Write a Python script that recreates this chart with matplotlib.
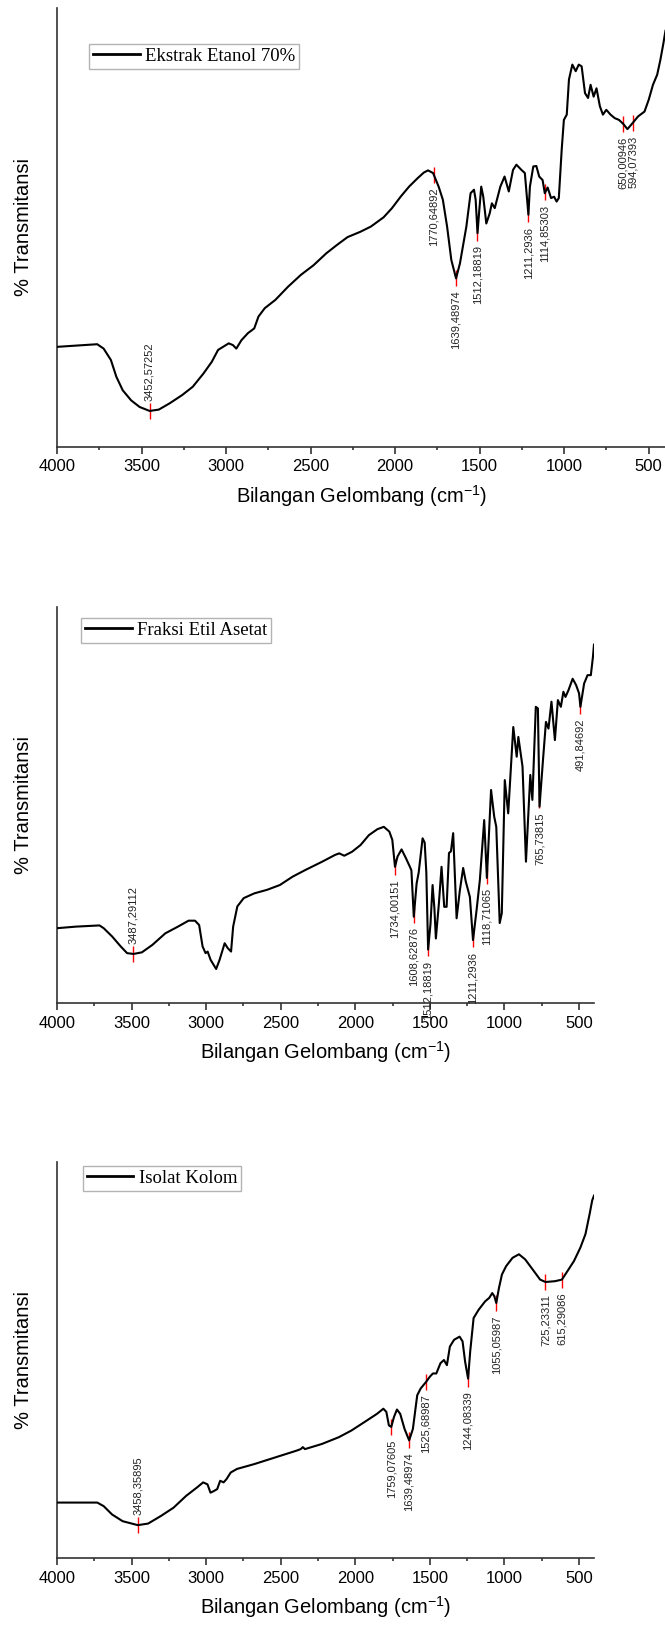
import numpy as np
import matplotlib.pyplot as plt
from matplotlib.ticker import MultipleLocator

plt.rcParams['font.family'] = ['Liberation Sans', 'DejaVu Sans']
plt.rcParams['mathtext.default'] = 'regular'

# ==========================================
# FTIR spectra (wavenumber cm-1, relative %T)
# ==========================================
# Ekstrak Etanol 70%
wn1 = [4000, 3762, 3724, 3681, 3649, 3611, 3561, 3511, 3452, 3398, 3335, 3260, 3197, 3134,
       3084, 3047, 2984, 2959, 2939, 2909, 2871, 2833, 2808, 2771, 2708, 2633, 2557, 2482,
       2407, 2344, 2281, 2206, 2143, 2068, 2018, 1967, 1917, 1867, 1830, 1805, 1775, 1742,
       1717, 1692, 1667, 1639, 1616, 1578, 1553, 1533, 1523, 1512, 1503, 1490, 1478, 1460,
       1440, 1427, 1410, 1377, 1352, 1327, 1302, 1282, 1252, 1232, 1211, 1202, 1182, 1164,
       1147, 1127, 1114, 1097, 1077, 1059, 1044, 1031, 1014, 1001, 984, 971, 951, 931, 913,
       896, 876, 858, 843, 825, 808, 788, 770, 750, 725, 700, 675, 650, 625, 594, 562, 524,
       499, 474, 449, 430, 412, 400]
t1 = [22.8, 23.4, 22.4, 19.8, 16.0, 12.9, 10.6, 9.1, 8.2, 8.5, 9.9, 11.8, 13.7, 16.7,
      19.4, 22.1, 23.6, 23.2, 22.4, 24.3, 25.9, 27.0, 29.7, 31.6, 33.5, 36.5, 39.2, 41.4,
      44.1, 46.0, 47.8, 49.0, 50.2, 52.3, 54.4, 57.0, 59.3, 61.2, 62.5, 63.0, 62.4, 59.3,
      56.3, 50.2, 42.6, 38.4, 41.8, 50.2, 57.8, 58.6, 56.3, 48.7, 53.2, 59.3, 57.0, 50.9,
      53.2, 55.5, 54.4, 59.3, 61.6, 58.2, 63.1, 64.3, 63.1, 62.4, 52.9, 59.3, 63.9, 64.0,
      61.6, 60.8, 57.8, 59.1, 56.7, 57.0, 55.9, 56.7, 67.7, 74.5, 75.7, 83.7, 87.1, 85.6, 87.1,
      86.7, 80.6, 79.5, 82.5, 79.8, 81.7, 77.6, 75.7, 76.8, 75.7, 74.9, 74.5, 73.6, 72.4, 73.8, 75.3, 76.4,
      79.1, 82.5, 84.8, 88.2, 92.0, 94.8]
peaks1 = [3452.57252, 1770.64892, 1639.48974, 1512.18819, 1211.2936, 1114.85303, 650.00946, 594.07393]

# Fraksi Etil Asetat
wn2 = [4000, 3872, 3715, 3687, 3630, 3573, 3530, 3487, 3431, 3360, 3274, 3189, 3118, 3075,
       3047, 3024, 3004, 2990, 2970, 2933, 2910, 2876, 2856, 2833, 2819, 2791, 2748, 2677,
       2591, 2506, 2421, 2335, 2222, 2136, 2108, 2074, 2022, 1965, 1909, 1852, 1809, 1772,
       1752, 1734, 1717, 1690, 1661, 1634, 1624, 1608, 1589, 1575, 1549, 1535, 1524, 1512,
       1496, 1482, 1470, 1460, 1440, 1422, 1404, 1388, 1372, 1359, 1344, 1321, 1299, 1277,
       1259, 1232, 1211, 1187, 1165, 1136, 1118, 1090, 1069, 1055, 1032, 1018, 998, 975, 941,
       918, 907, 879, 856, 827, 813, 790, 776, 765, 742, 722, 705, 685, 662, 642, 622, 605,
       591, 571, 543, 520, 500, 491, 466, 443, 421, 407, 400]
t2 = [18.9, 19.3, 19.6, 18.9, 16.8, 14.3, 12.6, 12.4, 12.8, 14.7, 17.6, 19.3, 20.8, 20.8,
      19.7, 14.3, 12.6, 13.0, 10.9, 8.6, 10.9, 15.1, 13.9, 13.0, 19.3, 24.4, 26.5, 27.7,
      28.6, 29.8, 31.9, 33.6, 35.7, 37.4, 37.8, 37.2, 38.2, 39.9, 42.4, 43.9, 44.5, 43.3,
      41.2, 34.4, 37.0, 38.8, 36.6, 34.4, 33.5, 21.8, 30.2, 33.0, 41.6, 40.5, 33.0, 13.5,
      20.0, 29.8, 24.0, 16.3, 25.0, 34.4, 24.3, 24.3, 37.9, 38.3, 42.9, 21.4, 28.5, 34.1,
      30.6, 26.8, 15.9, 23.5, 31.1, 46.2, 31.6, 53.8, 47.1, 44.5, 20.2, 22.7, 56.3, 47.9, 69.7,
      62.2, 67.2, 59.7, 35.7, 57.6, 51.3, 74.8, 74.4, 49.6, 61.3, 71.0, 69.3, 76.1, 66.4, 76.5, 74.8, 78.6,
      77.3, 79.0, 81.9, 80.3, 78.2, 74.8, 80.7, 82.8, 82.8, 87.4, 90.5]
peaks2 = [3487.29112, 1734.00151, 1608.62876, 1512.18819, 1211.2936, 1118.71065, 765.73815, 491.84692]

# Isolat Kolom
wn3 = [4000, 3730, 3687, 3631, 3560, 3458, 3389, 3304, 3219, 3134, 3062, 3020, 2991, 2971,
       2949, 2926, 2906, 2883, 2864, 2835, 2793, 2679, 2537, 2395, 2366, 2352, 2338, 2224,
       2111, 2026, 1940, 1855, 1812, 1792, 1775, 1759, 1741, 1721, 1699, 1670, 1639, 1614,
       1585, 1562, 1525, 1500, 1480, 1457, 1429, 1406, 1386, 1366, 1338, 1301, 1281, 1264,
       1244, 1230, 1207, 1173, 1130, 1102, 1082, 1068, 1055, 1037, 1017, 989, 946, 903, 861,
       804, 761, 725, 662, 615, 577, 534, 491, 457, 429, 412, 400]
t3 = [14.0, 14.0, 13.1, 11.0, 9.3, 8.3, 8.7, 10.6, 12.7, 15.7, 17.8, 19.1, 18.6, 16.5,
      16.9, 17.4, 19.5, 19.1, 19.9, 21.6, 22.5, 23.7, 25.4, 27.1, 27.5, 28.0, 27.5, 28.8,
      30.5, 32.2, 34.3, 36.4, 37.7, 36.9, 33.5, 33.1, 35.6, 37.5, 36.4, 32.6, 29.7, 32.6,
      41.1, 42.8, 44.5, 45.8, 46.6, 46.6, 49.2, 50.0, 48.7, 53.4, 55.1, 55.9, 54.7, 49.6,
      45.3, 52.1, 60.6, 62.7, 64.8, 65.7, 66.9, 66.1, 64.4, 68.2, 71.6, 73.7, 75.8, 76.7, 75.4,
      72.5, 70.3, 69.7, 69.9, 70.3, 72.5, 75.0, 78.4, 81.8, 86.9, 90.3, 91.5]
peaks3 = [3458.35895, 1759.07605, 1639.48974, 1525.68987, 1244.08339, 1055.05987, 725.23311, 615.29086]

names = ['Ekstrak Etanol 70%', 'Fraksi Etil Asetat', 'Isolat Kolom']

fig = plt.figure(figsize=(6.65, 16.27), dpi=100)

# axes rectangles in figure fraction (left, bottom, width, height)
rects = [(0.0857, 0.7253, 0.9150, 0.2698),
         (0.0857, 0.3835, 0.8075, 0.2434),
         (0.0857, 0.0424, 0.8075, 0.2434)]
legend_anchor = [(0.053, 0.918), (0.045, 0.972), (0.048, 0.99)]


def draw_panel(rect, wn, t, peaks, name, anchor):
    ax = fig.add_axes(rect)
    wn = np.array(wn, dtype=float)
    t = np.array(t, dtype=float)
    line, = ax.plot(wn, t, color='black', lw=1.5, zorder=3)

    # red peak markers sitting on the curve
    ty = np.interp(peaks, wn[::-1], t[::-1])
    ax.plot(peaks, ty, ls='none', marker='|', ms=11, mew=1.0, color='red', zorder=2)
    for p, y in zip(peaks, ty):
        above = p > 3000
        txt = ax.annotate(str(p).replace('.', ','), (p, y),
                          xytext=(0, 7 if above else -9), textcoords='offset points',
                          rotation=90, ha='center', va='bottom' if above else 'top',
                          fontsize=8, color='#222222', annotation_clip=False)
        txt.set_clip_on(True)

    ax.set_xlim(4000, 400)
    ax.set_ylim(0, 100)
    ax.xaxis.set_major_locator(MultipleLocator(500))
    ax.xaxis.set_minor_locator(MultipleLocator(250))
    ax.set_yticks([])
    ax.tick_params(axis='x', which='major', length=5, width=1.2, direction='out',
                   labelsize=12, pad=4, color='#333333')
    ax.tick_params(axis='x', which='minor', length=2.5, width=1.2, direction='out',
                   color='#333333')
    for s in ['top', 'right']:
        ax.spines[s].set_visible(False)
    for s in ['left', 'bottom']:
        ax.spines[s].set_linewidth(1.2)
        ax.spines[s].set_color('#333333')

    ax.set_ylabel('% Transmitansi', fontsize=14.5, labelpad=17)
    ax.set_xlabel('Bilangan Gelombang (cm$^{-1}$)', fontsize=14.5, labelpad=6)

    leg = ax.legend([line], [name], loc='upper left', bbox_to_anchor=anchor,
                    borderaxespad=0, fancybox=False, edgecolor='#a0a0a0',
                    prop={'family': 'Liberation Serif', 'size': 13.5},
                    handlelength=2.5, handletextpad=0.3, borderpad=0.2)
    leg.get_frame().set_linewidth(1.0)
    leg.get_lines()[0].set_linewidth(2.0)
    return ax


draw_panel(rects[0], wn1, t1, peaks1, names[0], legend_anchor[0])
draw_panel(rects[1], wn2, t2, peaks2, names[1], legend_anchor[1])
draw_panel(rects[2], wn3, t3, peaks3, names[2], legend_anchor[2])

fig.savefig('out.png', dpi=100)
